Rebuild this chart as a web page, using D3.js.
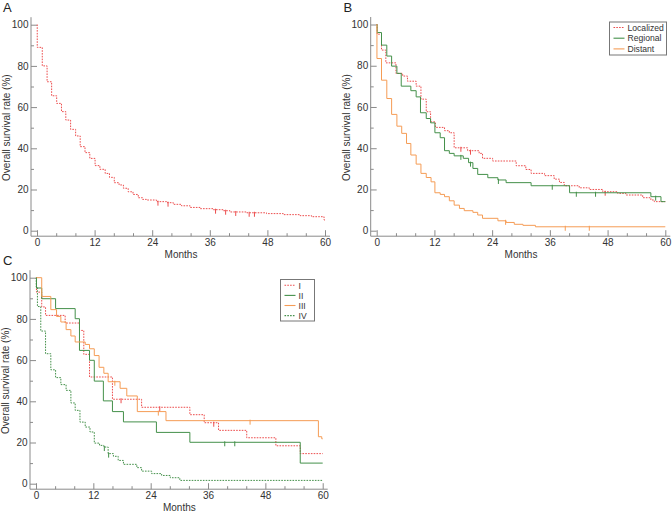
<!DOCTYPE html>
<html><head><meta charset="utf-8">
<script src="https://cdn.jsdelivr.net/npm/d3@7"></script>
<style>
html,body{margin:0;padding:0;background:#fff;}
svg{display:block;font-family:"Liberation Sans",Arial,Helvetica,sans-serif;}
</style></head>
<body>
<svg id="chart" width="672" height="514"></svg>
<script>
// ---------- data ----------
const xTicks = [0, 12, 24, 36, 48, 60];
const xMinor = [4, 8, 16, 20, 28, 32, 40, 44, 52, 56];
const yTicks = [0, 20, 40, 60, 80, 100];
const yMinor = [10, 30, 50, 70, 90];
const xTitle = "Months";
const yTitle = "Overall survival rate (%)";

// Panel A: all patients
const aTimes = [0, 0.05, 1.1, 2.1, 3.05, 4.1, 5.1, 6.0, 7.0, 8.05, 9, 10, 11, 12.1, 13.1, 14.2, 15.1, 16.1, 17.1, 18, 19, 20, 21.1, 22, 22.8, 24.9, 27, 28.4, 30.1, 31.9, 34, 36.7, 38.8, 40.2, 43.7, 47.8, 51.3, 54.8, 57.2, 59.8];
const aSurv  = [100, 89, 80, 72.3, 65.5, 61.8, 57.8, 53.7, 49.2, 46, 40.8, 37.9, 35.1, 31.6, 29.8, 27.8, 25.9, 23.3, 22.2, 20.6, 18.9, 17.6, 16, 15.2, 14.9, 14.1, 13.6, 12.8, 12.1, 11.3, 10.7, 10.2, 9.7, 9.1, 8.7, 8.3, 7.8, 7.3, 6.8, 5.2];
const aCens  = [25.2, 27.3, 37.2, 39.3, 41.4, 44.2, 45.3];

// Panel B: stage (SEER)
const bNames = ["Localized", "Regional", "Distant"];
const locTimes = [0, 0.1, 1.0, 1.9, 4.0, 5.4, 6.4, 8.2, 9.2, 10.3, 11.2, 12.2, 14.1, 15.1, 16.1, 18.9, 21.3, 22, 24.1, 29, 31, 32.1, 34.9, 36.9, 38, 39, 42.1, 44.2, 47, 50.1, 51.8, 55.3, 57, 57.7];
const locSurv  = [100, 95.3, 87.6, 81.4, 76.3, 75, 72.5, 70.1, 63.8, 57.7, 52.8, 50.1, 48.5, 47.5, 40.2, 38.8, 37.5, 35.1, 33.8, 31.5, 29.7, 27.8, 26.7, 25, 23.4, 21.8, 20.8, 20, 18.9, 18.1, 17.3, 16, 14.9, 14.1];
const locCens  = [17.5, 19.5, 47.5];
const regTimes = [0, 0.1, 1, 2.1, 3.1, 4.2, 5.1, 7.1, 8.2, 9.1, 10.3, 11.2, 12.1, 13.2, 14.1, 15.1, 16.1, 18, 19.1, 20, 21, 23.1, 25.2, 26.9, 32.1, 40.1, 57, 59.1];
const regSurv  = [100, 96.1, 90, 84.7, 79.8, 76.3, 70.1, 67.9, 64.9, 57.2, 54.4, 52.3, 47.5, 45.1, 38.8, 37.5, 36.3, 35.1, 33, 30.2, 27.3, 25.7, 24.6, 23.3, 21.8, 18.4, 16.5, 14.1];
const regCens  = [17.5, 19.5, 25.3, 36.5, 41.5, 45.5, 58];
const disTimes = [0, 0.05, 1, 2.1, 3.1, 4.2, 5.2, 6.2, 7.1, 8.2, 9.2, 10.3, 11.3, 12.1, 13.2, 14.1, 15.1, 16.1, 17.2, 18.2, 20, 21, 22, 25.2, 26.9, 28.6, 30.4, 33];
const disSurv  = [100, 83.5, 73, 64.1, 56.4, 50.7, 47.2, 42.3, 36.7, 32.3, 27.8, 25.8, 23.7, 18.4, 17.6, 16.5, 14.5, 12.4, 10.8, 9.7, 8.9, 7.6, 6, 4.8, 4, 3.1, 2.6, 1.9];
const disCens  = [26.8, 39.2, 44.2];

// Panel C: TNM stage
const cNames = ["I", "II", "III", "IV"];
const s1Times = [0, 0.1, 1.2, 2, 6.1, 9.1, 10, 11.2, 16.0, 22.1, 32.2, 35.2, 38.2, 44.1, 50.2, 55.3];
const s1Surv  = [100, 93, 85.8, 81.7, 78, 74.4, 62.8, 51.8, 41, 37.1, 33.5, 29.6, 25.9, 22.3, 18.4, 14.6];
const s1Cens  = [17.8, 25.9, 37.2];
const s2Times = [0, 0.1, 1.2, 4.1, 8.2, 9.1, 11.2, 12.2, 14.1, 16, 18.3, 25.2, 32.2, 55.3];
const s2Surv  = [100, 95, 89.8, 85, 80.1, 64.7, 59.9, 49.8, 40.2, 35, 30, 24.9, 20.1, 10];
const s2Cens  = [39.5, 41.6];
const s3Times = [0, 1.2, 3.1, 4.3, 5.2, 6.3, 7.3, 8.2, 10.3, 11.2, 12.2, 13.2, 14.2, 15.1, 17.6, 19, 21.2, 27.2, 59.1, 59.8];
const s3Surv  = [100, 90.9, 84.5, 81.2, 78.5, 74.8, 71.7, 68.8, 67.6, 65.5, 62.2, 56.5, 53.6, 49.5, 46.3, 42.6, 35, 30.6, 22.8, 21.8];
const s3Cens  = [16.5, 25.6, 44.8];
const s4Times = [0, 0.05, 0.3, 1, 2, 3.1, 4.1, 5.2, 6.3, 7.3, 8.2, 9.2, 10.3, 11.3, 12.2, 13.3, 14.2, 15.1, 16.2, 17.2, 18.3, 21.1, 22.1, 24.2, 26.3, 28.1, 30.1];
const s4Surv  = [100, 95.5, 86, 74.1, 63.1, 55.3, 51.5, 48.1, 45.3, 39.2, 35.6, 29.9, 27.5, 25.1, 19.7, 18.6, 17.8, 14.6, 13.3, 11.3, 9.4, 7.8, 6.1, 4.9, 4, 2.9, 1.6];
const s4Cens  = [14.3, 15.2];

// ---------- styles ----------
const RED = "#ec4d4d", GREEN = "#44904a", ORANGE = "#f59c55";
const styles = {
  red:    {color: RED,    dash: "1.6,1.2"},
  green:  {color: GREEN,  dash: null},
  orange: {color: ORANGE, dash: null},
  greenDot: {color: GREEN, dash: "1.6,1.2"}
};
const AXIS = "#8a8a8a", TEXT = "#333";

const svg = d3.select("#chart");

function panel(cfg) {
  const x = d3.scaleLinear().domain([0, 60]).range(cfg.xr);
  const y = d3.scaleLinear().domain([0, 100]).range(cfg.yr);
  const g = svg.append("g");
  const ax = cfg.xr[0] - 6, ay = cfg.yr[0] + 5.5;

  // axis lines
  g.append("line").attr("x1", ax).attr("x2", ax).attr("y1", cfg.yr[1] - 7.5).attr("y2", ay)
    .attr("stroke", AXIS).attr("stroke-width", 1);
  g.append("line").attr("x1", ax).attr("x2", cfg.xr[1] + 5).attr("y1", ay).attr("y2", ay)
    .attr("stroke", AXIS).attr("stroke-width", 1);

  // y axis major
  const yA = g.append("g").attr("transform", `translate(${ax},0)`)
    .call(d3.axisLeft(y).tickValues(yTicks).tickSizeInner(-6).tickSizeOuter(0).tickPadding(2.5));
  yA.select(".domain").remove();
  const yM = g.append("g").attr("transform", `translate(${ax},0)`)
    .call(d3.axisLeft(y).tickValues(yMinor).tickSizeInner(-3).tickSizeOuter(0).tickFormat(""));
  yM.select(".domain").remove();

  // x axis major
  const xA = g.append("g").attr("transform", `translate(0,${ay})`)
    .call(d3.axisBottom(x).tickValues(xTicks).tickSizeInner(-6).tickSizeOuter(0).tickPadding(3));
  xA.select(".domain").remove();
  const xM = g.append("g").attr("transform", `translate(0,${ay})`)
    .call(d3.axisBottom(x).tickValues(xMinor).tickSizeInner(-3).tickSizeOuter(0).tickFormat(""));
  xM.select(".domain").remove();

  g.selectAll(".tick line").attr("stroke", AXIS);
  g.selectAll(".tick text").attr("fill", TEXT).style("font-size", "10px")
    .style("font-family", '"Liberation Sans",Arial,sans-serif');

  // titles
  g.append("text").attr("transform", `translate(${ax - 21},${(cfg.yr[0] + cfg.yr[1]) / 2}) rotate(-90)`)
    .attr("text-anchor", "middle").attr("fill", TEXT).style("font-size", "10px").text(yTitle);
  g.append("text").attr("x", (cfg.xr[0] + cfg.xr[1]) / 2).attr("y", cfg.yr[0] + 27)
    .attr("text-anchor", "middle").attr("fill", TEXT).style("font-size", "10px").text(xTitle);
  g.append("text").attr("x", cfg.label[0]).attr("y", cfg.label[1])
    .attr("fill", "#222").style("font-size", "13px").text(cfg.name);

  // curves
  const line = d3.line().x(d => x(d[0])).y(d => y(d[1])).curve(d3.curveStepAfter);
  cfg.curves.forEach(c => {
    const pts = c.t.map((t, i) => [t, c.s[i]]);
    pts.push([60, c.s[c.s.length - 1]]);
    const st = styles[c.style];
    g.append("path").attr("d", line(pts)).attr("fill", "none")
      .attr("stroke", st.color).attr("stroke-width", 1)
      .attr("stroke-dasharray", st.dash);
    // censor marks
    const stepVal = t => { let v = c.s[0]; c.t.forEach((tt, i) => { if (tt <= t) v = c.s[i]; }); return v; };
    g.selectAll(null).data(c.c).enter().append("line")
      .attr("x1", d => x(d)).attr("x2", d => x(d))
      .attr("y1", d => y(stepVal(d)) - 1).attr("y2", d => y(stepVal(d)) + 4)
      .attr("stroke", st.color).attr("stroke-width", 1);
  });

  // legend
  if (cfg.legend) {
    const L = cfg.legend;
    g.append("rect").attr("x", L.x).attr("y", L.y).attr("width", L.w).attr("height", L.h)
      .attr("fill", "#fff").attr("stroke", "#777").attr("stroke-width", 1);
    L.items.forEach((it, i) => {
      const yy = L.y + L.first + i * L.step;
      const st = styles[it.style];
      g.append("line").attr("x1", L.x + 4).attr("x2", L.x + 15).attr("y1", yy).attr("y2", yy)
        .attr("stroke", st.color).attr("stroke-width", 1.1).attr("stroke-dasharray", st.dash);
      g.append("text").attr("x", L.x + L.tx).attr("y", yy + 3.2).attr("fill", TEXT)
        .style("font-size", "8.6px").text(it.name);
    });
  }
}

panel({
  name: "A", label: [3, 12],
  xr: [37, 325], yr: [230.7, 24.7],
  curves: [{t: aTimes, s: aSurv, c: aCens, style: "red"}]
});

panel({
  name: "B", label: [343.5, 11.5],
  xr: [376.7, 665.3], yr: [230.7, 24.5],
  curves: [
    {t: locTimes, s: locSurv, c: locCens, style: "red"},
    {t: regTimes, s: regSurv, c: regCens, style: "green"},
    {t: disTimes, s: disSurv, c: disCens, style: "orange"}
  ],
  legend: {x: 609.5, y: 22, w: 57, h: 33, first: 5.5, step: 10.7, tx: 18,
    items: bNames.map((n, i) => ({name: n, style: ["red", "green", "orange"][i]}))}
});

panel({
  name: "C", label: [3, 265],
  xr: [36, 322.7], yr: [483.7, 277.7],
  curves: [
    {t: s1Times, s: s1Surv, c: s1Cens, style: "red"},
    {t: s2Times, s: s2Surv, c: s2Cens, style: "green"},
    {t: s3Times, s: s3Surv, c: s3Cens, style: "orange"},
    {t: s4Times, s: s4Surv, c: s4Cens, style: "greenDot"}
  ],
  legend: {x: 280.5, y: 279.5, w: 34, h: 41.5, first: 5.8, step: 10.1, tx: 18,
    items: cNames.map((n, i) => ({name: n, style: ["red", "green", "orange", "greenDot"][i]}))}
});
</script>
</body></html>
